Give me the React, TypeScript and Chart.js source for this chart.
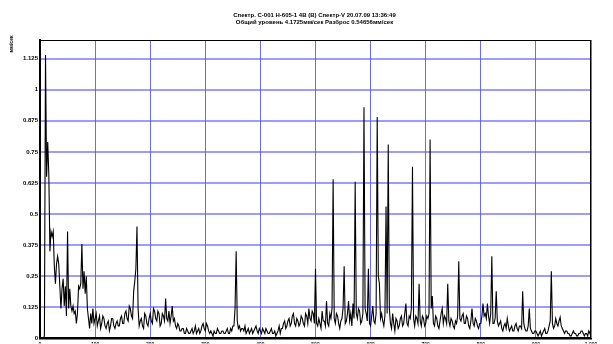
import React, { useEffect, useRef } from "react";
import { Chart, registerables } from "chart.js";

Chart.register(...registerables);

const TITLE_LINES = [
  "Спектр. С-001 Н-605-1 4В (В) Спектр-V 20.07.09 13:36:49",
  "Общий уровень 4.1725мм/сек Разброс 0.54656мм/сек",
];
const Y_TITLE = "мм/сек";
const FREQ_STEP = 2;
const Y_TICKS = [0, 0.125, 0.25, 0.375, 0.5, 0.625, 0.75, 0.875, 1, 1.125];
const X_TICKS = [0, 100, 200, 300, 400, 500, 600, 700, 800, 900, 1000];

const AMPLITUDES = [
  // 0 - 94 Hz
  0, 0, 0, 0, 0.01, 1.14, 0.65, 0.79, 0.66, 0.35,
  0.43, 0.41, 0.43, 0.29, 0.22, 0.3, 0.33, 0.3, 0.21, 0.12,
  0.2, 0.24, 0.13, 0.21, 0.09, 0.43, 0.12, 0.2, 0.13, 0.11,
  0.13, 0.1, 0.11, 0.06, 0.1, 0.21, 0.2, 0.22, 0.38, 0.2,
  0.27, 0.18, 0.25, 0.12, 0.08, 0.04, 0.1, 0.06,
  // 96 Hz onward
  0.12, 0.06, 0.08, 0.1, 0.05, 0.07, 0.09, 0.04, 0.06, 0.09,
  0.08, 0.05, 0.04, 0.06, 0.07, 0.03, 0.05, 0.08, 0.08, 0.05,
  0.04, 0.06, 0.07, 0.05, 0.05, 0.08, 0.09, 0.06, 0.06, 0.1,
  0.11, 0.08, 0.07, 0.13, 0.12, 0.09, 0.08, 0.19, 0.23, 0.28,
  0.45, 0.12, 0.05, 0.07, 0.08, 0.05, 0.04, 0.1, 0.09, 0.06,
  0.05, 0.08, 0.1, 0.07, 0.06, 0.12, 0.11, 0.08, 0.07, 0.11,
  0.1, 0.05, 0.06, 0.1, 0.09, 0.07, 0.16, 0.08, 0.07, 0.11,
  0.06, 0.09, 0.13, 0.07, 0.08, 0.05, 0.04, 0.06, 0.05, 0.03,
  0.03, 0.04, 0.04, 0.02, 0.02, 0.04, 0.03, 0.02, 0.02, 0.03,
  0.04, 0.02, 0.03, 0.05, 0.02, 0.03, 0.04, 0.02, 0.03, 0.05,
  0.06, 0.04, 0.03, 0.06, 0.05, 0.03, 0.02, 0.03, 0.02, 0.01,
  0.03, 0.02, 0.02, 0.04, 0.03, 0.02, 0.02, 0.03, 0.03, 0.02,
  0.02, 0.03, 0.04, 0.02, 0.02, 0.04, 0.03, 0.05, 0.05, 0.12,
  0.35, 0.07, 0.04, 0.05, 0.03, 0.04, 0.04, 0.03, 0.05, 0.02,
  0.03, 0.04, 0.02, 0.03, 0.04, 0.02, 0.03, 0.04, 0.05, 0.03,
  0.02, 0.04, 0.03, 0.02, 0.04, 0.03, 0.02, 0.04, 0.03, 0.02,
  0.02, 0.03, 0.04, 0.02, 0.02, 0.03, 0.01, 0.02, 0.03, 0.05,
  0.02, 0.04, 0.04, 0.06, 0.07, 0.04, 0.05, 0.07, 0.08, 0.05,
  0.06, 0.09, 0.1, 0.06, 0.05, 0.08, 0.07, 0.05, 0.06, 0.09,
  0.08, 0.06, 0.05, 0.1, 0.09, 0.06, 0.12, 0.08, 0.07, 0.11,
  0.1, 0.06, 0.28, 0.06, 0.05, 0.08, 0.06, 0.04, 0.11, 0.07,
  0.07, 0.05, 0.15, 0.06, 0.05, 0.1, 0.08, 0.12, 0.64, 0.08,
  0.06, 0.1, 0.09, 0.06, 0.04, 0.07, 0.08, 0.12, 0.29, 0.06,
  0.07, 0.1, 0.15, 0.07, 0.1, 0.05, 0.14, 0.08, 0.63, 0.1,
  0.08, 0.12, 0.11, 0.06, 0.07, 0.1, 0.93, 0.12, 0.1, 0.07,
  0.28, 0.06, 0.05, 0.09, 0.13, 0.07, 0.06, 0.1, 0.89, 0.25,
  0.22, 0.08, 0.1, 0.07, 0.05, 0.09, 0.53, 0.1, 0.78, 0.12,
  0.06, 0.04, 0.1, 0.06, 0.03, 0.08, 0.07, 0.04, 0.05, 0.08,
  0.09, 0.05, 0.06, 0.1, 0.14, 0.06, 0.05, 0.09, 0.08, 0.12,
  0.69, 0.08, 0.05, 0.09, 0.08, 0.06, 0.22, 0.07, 0.05, 0.09,
  0.08, 0.05, 0.06, 0.09, 0.08, 0.1, 0.8, 0.12, 0.17, 0.06,
  0.05, 0.09, 0.08, 0.05, 0.04, 0.07, 0.1, 0.12, 0.06, 0.09,
  0.08, 0.06, 0.22, 0.07, 0.05, 0.08, 0.07, 0.05, 0.04, 0.07,
  0.06, 0.09, 0.31, 0.08, 0.07, 0.09, 0.1, 0.06, 0.06, 0.09,
  0.08, 0.05, 0.04, 0.07, 0.12, 0.06, 0.05, 0.08, 0.07, 0.05,
  0.04, 0.06, 0.06, 0.09, 0.14, 0.09, 0.1, 0.08, 0.14, 0.09,
  0.06, 0.1, 0.33, 0.06, 0.06, 0.08, 0.19, 0.07, 0.05, 0.06,
  0.07, 0.04, 0.03, 0.05, 0.06, 0.04, 0.08, 0.05, 0.03, 0.04,
  0.05, 0.03, 0.03, 0.05, 0.06, 0.04, 0.03, 0.05, 0.05, 0.04,
  0.19, 0.06, 0.04, 0.03, 0.03, 0.05, 0.12, 0.04, 0.03, 0.02,
  0.02, 0.03, 0.03, 0.02, 0.01, 0.02, 0.03, 0.01, 0.02, 0.03,
  0.04, 0.02, 0.02, 0.03, 0.05, 0.07, 0.27, 0.06, 0.04, 0.05,
  0.08, 0.06, 0.05, 0.07, 0.085, 0.05, 0.04, 0.03, 0.02, 0.03,
  0.03, 0.02, 0.02, 0.01, 0.01, 0.02, 0.03, 0.02, 0.02, 0.01,
  0.01, 0.02, 0.02, 0.03, 0.03, 0.02, 0.01, 0.02, 0.02, 0.01,
  0.03, 0.02, 0.04,
];

const FONT = "'Liberation Sans', Arial, sans-serif";

const textPlugin = {
  id: "customText",
  afterDraw(chart: any) {
    const { ctx, chartArea } = chart;
    ctx.save();
    ctx.strokeStyle = "#000";
    ctx.lineWidth = 1;
    ctx.strokeRect(
      Math.round(chartArea.left) + 0.5,
      Math.round(chartArea.top) + 0.5,
      Math.round(chartArea.right - chartArea.left) - 1,
      Math.round(chartArea.bottom - chartArea.top) - 1
    );
    ctx.fillStyle = "#000";
    ctx.font = `bold 6px ${FONT}`;
    ctx.textAlign = "center";
    ctx.textBaseline = "middle";
    const cx = (chartArea.left + chartArea.right) / 2 - 1;
    ctx.fillText(TITLE_LINES[0], cx, 15);
    ctx.fillText(TITLE_LINES[1], cx, 22);
    ctx.translate(12, 44);
    ctx.rotate(-Math.PI / 2);
    ctx.font = `bold 5px ${FONT}`;
    ctx.fillText(Y_TITLE, 0, 0);
    ctx.restore();
  },
};

export default function App() {
  const ref = useRef<HTMLCanvasElement>(null);
  useEffect(() => {
    if (!ref.current) return;
    const data = AMPLITUDES.map((v, i) => ({ x: i * FREQ_STEP, y: v }));
    const chart = new Chart(ref.current, {
      type: "line",
      data: {
        datasets: [
          {
            data,
            borderColor: "#000",
            borderWidth: 1.1,
            pointRadius: 0,
            tension: 0,
          },
        ],
      },
      plugins: [textPlugin],
      options: {
        responsive: false,
        animation: false,
        layout: { padding: { left: 0, right: 22, top: 40, bottom: 0 } },
        plugins: {
          legend: { display: false },
          title: { display: false },
          tooltip: { enabled: false },
        },
        scales: {
          x: {
            type: "linear",
            min: 0,
            max: 1000,
            afterBuildTicks: (s: any) => {
              s.ticks = X_TICKS.map((v) => ({ value: v }));
            },
            afterFit: (s: any) => {
              s.height = 5;
            },
            grid: {
              color: "rgba(80,80,255,0.85)",
              lineWidth: 1,
              drawTicks: false,
            },
            border: { color: "#000", width: 1.5 },
            ticks: {
              padding: 3,
              color: "#000",
              maxRotation: 0,
              autoSkip: false,
              font: { size: 5, weight: "bold", family: FONT },
            },
          },
          y: {
            type: "linear",
            min: 0,
            max: 1.2,
            afterBuildTicks: (s: any) => {
              s.ticks = Y_TICKS.map((v) => ({ value: v }));
            },
            afterFit: (s: any) => {
              s.width = 40;
            },
            grid: {
              color: "rgba(90,90,255,0.6)",
              lineWidth: 2,
              drawTicks: false,
            },
            border: { color: "#000", width: 2 },
            ticks: {
              padding: 2,
              color: "#000",
              autoSkip: false,
              font: { size: 6, weight: "bold", family: FONT },
              callback: (v: any) => String(v),
            },
          },
        },
      },
    });
    return () => chart.destroy();
  }, []);
  return (
    <div style={{ position: "fixed", left: 0, top: 0, width: 613, height: 344, background: "#fff" }}>
      <canvas ref={ref} width={613} height={344} style={{ display: "block" }} />
    </div>
  );
}
